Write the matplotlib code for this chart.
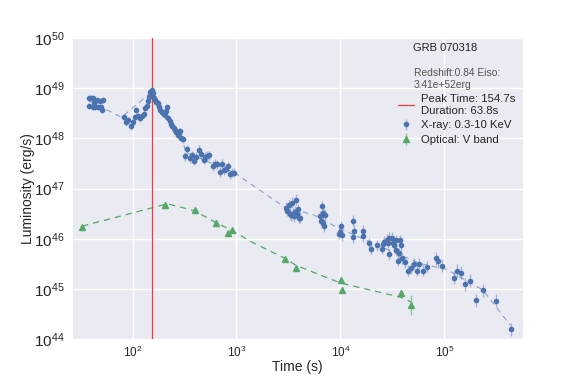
import numpy as np
import matplotlib
matplotlib.use("Agg")
import matplotlib.pyplot as plt

# X-ray (0.3-10 keV) light curve
xray_t = [37.7, 39.4, 41.8, 45.0, 48.4, 52.2, 38.5, 41.2, 43.7, 46.8, 49.2, 50.6, 43.0,
          81.9, 85.7, 89.5, 95.7, 100, 104.5, 106.9, 111.7, 116.7, 122.1, 127.6, 130.6,
          136.5, 139.6, 144.9, 148.2, 151.4, 154.9, 157.7, 159.3,
          162.9, 169.2, 174.1, 179.2, 184.8, 190.2, 195.8, 203.4, 207.9, 214, 220.6,
          227, 233.8, 241.2, 248.2, 255.6, 263.7, 271.5, 277.5, 285.6, 292, 303.2,
          319, 333.6, 354, 375.8, 392.8, 410.7, 435, 459, 483, 501, 519.5, 543, 594,
          621, 649, 689, 720, 753, 787, 823, 860, 899, 940,
          2978, 3069, 3186, 3258, 3350, 3428, 3500, 3580, 3662, 3743, 3828, 3947, 3998, 4126,
          6427, 6663, 6808, 7073, 6574, 6808, 6966,
          9660, 9870, 10090, 10250,
          13090, 13460, 13090, 16350, 16570, 18900, 19630, 22280, 24880, 25450, 26380,
          28200, 28450, 29070, 29440, 31480, 31770, 32900, 33960, 34200, 35480, 36750,
          37320, 37930, 38810, 41720, 44570, 47660, 50950, 54070, 57280, 61800, 68400,
          82900, 86100, 94100, 123000, 131400, 143700, 157000, 175400, 201500, 237000,
          314000, 438500]
xray_L = [6.44e48, 6.4e48, 6.4e48, 5.7e48, 5.45e48, 5.9e48, 4.47e48, 4.3e48, 4.3e48, 4.27e48,
          4.14e48, 3.66e48, 4.97e48,
          2.62e48, 2.08e48, 2.28e48, 1.73e48, 2.08e48, 2.62e48, 3.6e48, 2.74e48, 2.5e48,
          2.74e48, 3.0e48, 3.95e48, 4.33e48, 5.45e48, 6.53e48, 8.2e48, 8.2e48, 9.0e48,
          7.85e48, 6.24e48,
          5.7e48, 5.2e48, 4.97e48, 4.14e48, 3.6e48, 3.29e48, 3.14e48, 2.87e48, 3.44e48,
          4.14e48, 2.5e48, 2.18e48, 1.9e48, 1.73e48, 1.58e48, 1.45e48, 1.32e48, 1.15e48,
          1.26e48, 1.38e48, 1.0e48, 9.6e47,
          4.4e47, 6.05e47, 4.0e47, 4.6e47, 3.55e47, 4.26e47, 5.97e47, 4.82e47, 3.78e47,
          4.26e47, 4.46e47, 4.6e47, 2.82e47, 3.15e47, 3.05e47, 2.14e47, 3.15e47, 2.32e47,
          2.51e47, 2.78e47, 1.93e47, 2.05e47, 2.08e47,
          4.2e46, 3.6e46, 4.67e46, 3.19e46, 2.96e46, 5.19e46, 3.19e46, 2.82e46, 3.44e46,
          6.07e46, 3.19e46, 3.89e46, 2.61e46, 2.66e46,
          2.82e46, 4.47e46, 3.28e46, 3.05e46, 2.28e46, 2.08e46, 1.79e46,
          1.28e46, 1.38e46, 1.79e46, 1.18e46,
          2.28e46, 1.44e46, 1.07e46, 1.44e46, 1.13e46, 8.1e45, 6.44e45, 7.5e45, 6.44e45,
          7.74e45, 8.7e45, 9.7e45, 8.3e45, 4.97e45, 1.05e46, 1.05e46, 8.3e45, 7.5e45,
          9.4e45, 5.96e45, 3.66e45, 5.13e45, 9.4e45, 7.5e45, 4.08e45, 3.4e45, 2.31e45,
          2.58e45, 3.24e45, 2.31e45, 3.24e45, 2.31e45, 2.78e45,
          4.08e45, 3.6e45, 2.9e45, 1.68e45, 2.31e45, 2.11e45, 1.24e45, 1.46e45, 6.05e44,
          9.57e44, 5.86e44, 1.61e44]
# error half-width in dex, per stretch of the curve
xray_dex = [0.06] * 13 + [0.07] * 20 + [0.07] * 22 + [0.09] * 23 + [0.11] * 14 + \
           [0.11] * 7 + [0.11] * 4 + [0.11] * 33 + [0.13] * 12

# broken power-law fit for the X-ray curve
xfit_t = [37.7, 78.4, 154.9, 303, 324, 940, 2978, 5420, 9160, 19190, 58200, 105200, 235700, 428500]
xfit_L = [5.6e48, 2.62e48, 8.6e48, 9.6e47, 5.27e47, 2.11e47, 4.13e46, 3.05e46, 1.73e46,
          8.7e45, 3.24e45, 2.47e45, 9.6e44, 1.93e44]

# optical V band
opt_t = [32.7, 206.5, 395, 631, 828, 906, 2911, 3715, 10160, 10250, 38200, 47600]
opt_L = [1.73e46, 4.67e46, 3.72e46, 2.08e46, 1.34e46, 1.49e46, 4.07e45, 2.69e45,
         1.49e45, 9.44e44, 8.46e44, 4.75e44]
opt_dex = [0.03, 0.03, 0.03, 0.03, 0.03, 0.03, 0.03, 0.04, 0.05, 0.06, 0.06, 0.2]

ofit_t = [32.7, 217, 395, 640, 893, 1393, 2911, 3715, 10090, 38200, 47640]
ofit_L = [1.79e46, 5.0e46, 3.63e46, 2.08e46, 1.49e46, 8.71e45, 4.13e45, 2.99e45,
          1.32e45, 6.9e44, 5.6e44]

peak_time = 154.7
duration = 63.8

plt.style.use("seaborn-v0_8-darkgrid")
plt.rcParams["font.family"] = ["Liberation Sans", "DejaVu Sans"]
plt.rcParams["text.color"] = ".15"

fig = plt.figure(figsize=(5.81, 3.78), dpi=100)
ax = fig.add_subplot(111)
fig.subplots_adjust(left=0.125, right=0.9, top=0.9, bottom=0.102)

blue = "#4C72B0"
green = "#55A868"

def dex_err(vals, dex):
    vals = np.array(vals)
    dex = np.array(dex)
    return [vals * (1 - 10 ** -dex), vals * (10 ** dex - 1)]

ax.plot(xfit_t, xfit_L, "--", color=blue, alpha=0.6, lw=0.8, dashes=(5, 4))
ax.plot(ofit_t, ofit_L, "--", color=green, lw=0.9, dashes=(5, 4))

line = ax.axvline(peak_time, color="#f03c3c", lw=0.9,
                  label="Peak Time: %.1fs\nDuration: %.1fs" % (peak_time, duration))
xr = ax.errorbar(xray_t, xray_L, yerr=dex_err(xray_L, xray_dex), fmt="o", ms=3,
                 color=blue, ecolor=(0.298, 0.447, 0.69, 0.45), elinewidth=1,
                 label="X-ray: 0.3-10 KeV")
op = ax.errorbar(opt_t, opt_L, yerr=dex_err(opt_L, opt_dex), fmt="^", ms=5,
                 color=green, ecolor=(0.333, 0.659, 0.408, 0.6), elinewidth=1,
                 label="Optical: V band")

ax.set_xscale("log")
ax.set_yscale("log")
ax.set_xlim(26.5, 5.7e5)
ax.set_ylim(1e44, 1e50)
ax.grid(True, which="major", color="white", lw=1)
ax.grid(False, which="minor")
ax.tick_params(axis="x", labelsize=8.5, pad=4)
ax.tick_params(axis="y", labelsize=11, pad=6)
ax.tick_params(which="both", length=0)
ax.set_xlabel("Time (s)", fontsize=10, labelpad=0)
ax.set_ylabel("Luminosity (erg/s)", fontsize=10, labelpad=-1)

ax.text(0.755, 0.982, "GRB 070318", transform=ax.transAxes, fontsize=8, va="top",
        color="#222222")
leg = ax.legend(loc="upper left", bbox_to_anchor=(0.703, 0.93), frameon=False,
                fontsize=8.2, title="Redshift:0.84 Eiso:\n3.41e+52erg",
                title_fontsize=7.4, handlelength=1.4, handletextpad=0.6,
                labelspacing=0.4, numpoints=1, borderpad=0.3)
leg.get_title().set_color("#555555")

fig.savefig("out.png", dpi=100)
